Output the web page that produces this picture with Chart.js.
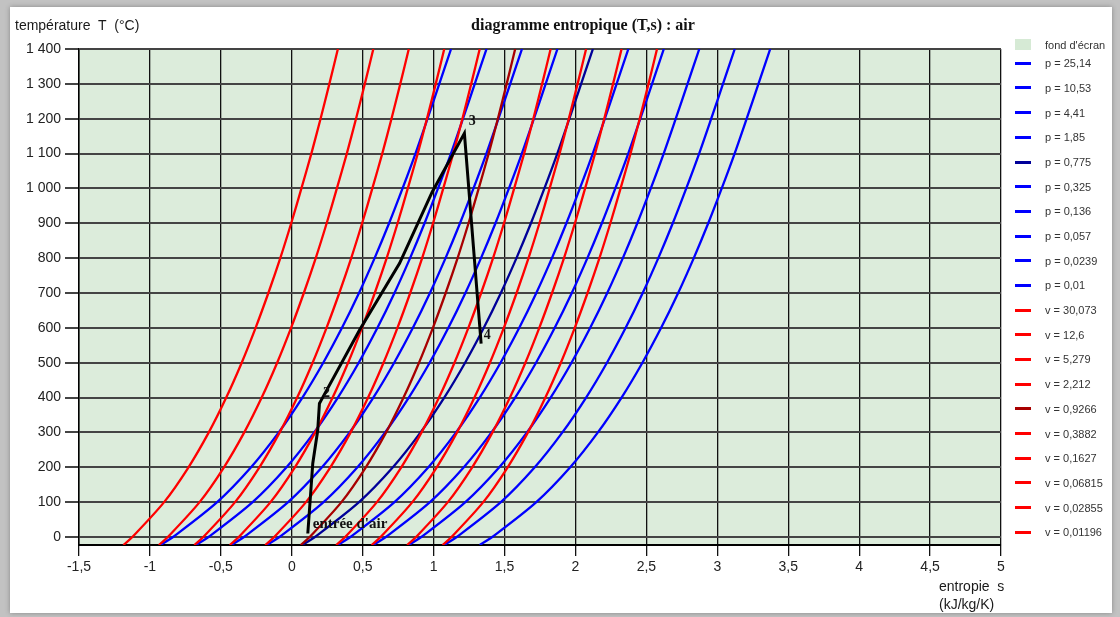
<!DOCTYPE html>
<html>
<head>
<meta charset="utf-8">
<script src="https://cdn.jsdelivr.net/npm/chart.js@4.4.1/dist/chart.umd.min.js"></script>
<style>
html, body { margin: 0; padding: 0; }
body { width: 1120px; height: 617px; background: #c2c2c2; position: relative; overflow: hidden; font-family: "Liberation Sans", Arial, sans-serif; }
#panel { position: absolute; left: 10px; top: 7px; width: 1102px; height: 606px; background: #fff; box-shadow: 0 0 5px rgba(0,0,0,0.3); }
#chart { position: absolute; left: 0; top: 0; }
.txt { position: absolute; white-space: nowrap; color: #1a1a1a; }
#title { left: 583px; top: 15px; transform: translateX(-50%); font: bold 16px "Liberation Serif", "Times New Roman", serif; line-height: 20px; color: #111; }
#ytitle { left: 15px; top: 17px; font-size: 14px; line-height: 16px; }
#xtitle { left: 939px; top: 577px; font-size: 14px; line-height: 18px; }
.leg { position: absolute; left: 1015px; font-size: 11px; color: #333; }
.leg span.sw { position: absolute; left: 0; width: 16px; height: 3px; top: -1.5px; }
.leg span.lb { position: absolute; left: 30px; top: -7px; line-height: 14px; white-space: nowrap; }
</style>
</head>
<body>
<div id="panel"></div>
<canvas id="chart" width="1120" height="617"></canvas>
<div class="txt" id="title">diagramme entropique (T,s) : air</div>
<div class="txt" id="ytitle">température&nbsp; T&nbsp; (°C)</div>
<div class="txt" id="xtitle">entropie&nbsp; s<br>(kJ/kg/K)</div>
<div id="legend"></div>
<script>
// temperature levels (°C) at which each curve was read
const tempLevels = [-23, 0, 100, 200, 300, 400, 500, 600, 700, 800, 900, 1000, 1100, 1200, 1300, 1400];

// isobars, entropy s (kJ/kg/K) at each temperature level
const pressureLabels = ['p = 25,14', 'p = 10,53', 'p = 4,41', 'p = 1,85', 'p = 0,775', 'p = 0,325', 'p = 0,136', 'p = 0,057', 'p = 0,0239', 'p = 0,01'];
const isobarS = [
    [-0.925, -0.837, -0.526, -0.287, -0.092, 0.075, 0.222, 0.354, 0.474, 0.584, 0.686, 0.781, 0.872, 0.957, 1.040, 1.123],
    [-0.675, -0.587, -0.276, -0.037, 0.158, 0.325, 0.472, 0.604, 0.724, 0.834, 0.936, 1.031, 1.122, 1.207, 1.290, 1.373],
    [-0.425, -0.337, -0.026, 0.213, 0.408, 0.575, 0.722, 0.854, 0.974, 1.084, 1.186, 1.281, 1.372, 1.457, 1.540, 1.623],
    [-0.175, -0.087, 0.224, 0.463, 0.658, 0.825, 0.972, 1.104, 1.224, 1.334, 1.436, 1.531, 1.622, 1.707, 1.790, 1.873],
    [0.075, 0.163, 0.474, 0.713, 0.908, 1.075, 1.222, 1.354, 1.474, 1.584, 1.686, 1.781, 1.872, 1.957, 2.040, 2.123],
    [0.325, 0.413, 0.724, 0.963, 1.158, 1.325, 1.472, 1.604, 1.724, 1.834, 1.936, 2.031, 2.122, 2.207, 2.290, 2.373],
    [0.575, 0.663, 0.974, 1.213, 1.408, 1.575, 1.722, 1.854, 1.974, 2.084, 2.186, 2.281, 2.372, 2.457, 2.540, 2.623],
    [0.825, 0.913, 1.224, 1.463, 1.658, 1.825, 1.972, 2.104, 2.224, 2.334, 2.436, 2.531, 2.622, 2.707, 2.790, 2.873],
    [1.075, 1.163, 1.474, 1.713, 1.908, 2.075, 2.222, 2.354, 2.474, 2.584, 2.686, 2.781, 2.872, 2.957, 3.040, 3.123],
    [1.325, 1.413, 1.724, 1.963, 2.158, 2.325, 2.472, 2.604, 2.724, 2.834, 2.936, 3.031, 3.122, 3.207, 3.290, 3.373]
];

// isochores, same temperature levels
const volumeLabels = ['v = 30,073', 'v = 12,6', 'v = 5,279', 'v = 2,212', 'v = 0,9266', 'v = 0,3882', 'v = 0,1627', 'v = 0,06815', 'v = 0,02855', 'v = 0,01196'];
const isochoreS = [
    [1.063, 1.126, 1.350, 1.522, 1.665, 1.788, 1.897, 1.995, 2.085, 2.169, 2.246, 2.318, 2.388, 2.453, 2.515, 2.575],
    [0.813, 0.876, 1.100, 1.272, 1.415, 1.538, 1.647, 1.745, 1.835, 1.919, 1.996, 2.068, 2.138, 2.203, 2.265, 2.325],
    [0.563, 0.626, 0.850, 1.022, 1.165, 1.288, 1.397, 1.495, 1.585, 1.669, 1.746, 1.818, 1.888, 1.953, 2.015, 2.075],
    [0.313, 0.376, 0.600, 0.772, 0.915, 1.038, 1.147, 1.245, 1.335, 1.419, 1.496, 1.568, 1.638, 1.703, 1.765, 1.825],
    [0.063, 0.126, 0.350, 0.522, 0.665, 0.788, 0.897, 0.995, 1.085, 1.169, 1.246, 1.318, 1.388, 1.453, 1.515, 1.575],
    [-0.187, -0.124, 0.100, 0.272, 0.415, 0.538, 0.647, 0.745, 0.835, 0.919, 0.996, 1.068, 1.138, 1.203, 1.265, 1.325],
    [-0.437, -0.374, -0.150, 0.022, 0.165, 0.288, 0.397, 0.495, 0.585, 0.669, 0.746, 0.818, 0.888, 0.953, 1.015, 1.075],
    [-0.687, -0.624, -0.400, -0.228, -0.085, 0.038, 0.147, 0.245, 0.335, 0.419, 0.496, 0.568, 0.638, 0.703, 0.765, 0.825],
    [-0.937, -0.874, -0.650, -0.478, -0.335, -0.212, -0.103, -0.005, 0.085, 0.169, 0.246, 0.318, 0.388, 0.453, 0.515, 0.575],
    [-1.187, -1.124, -0.900, -0.728, -0.585, -0.462, -0.353, -0.255, -0.165, -0.081, -0.004, 0.068, 0.138, 0.203, 0.265, 0.325]
];

// engine cycle (black path)
const cycleS = [0.113, 0.148, 0.183, 0.195, 0.207, 0.477, 0.76, 0.99, 1.217, 1.335];
const cycleT = [10, 211, 306, 383, 392, 593, 785, 990, 1158, 555];
const pointNames = ["entrée d'air", '2', '3', '4'];
const pointS = [0.148, 0.249, 1.276, 1.382];
const pointT = [38, 412, 1191, 579];

const xTicks = [-1.5, -1, -0.5, 0, 0.5, 1, 1.5, 2, 2.5, 3, 3.5, 4, 4.5, 5];
const yTicks = [0, 100, 200, 300, 400, 500, 600, 700, 800, 900, 1000, 1100, 1200, 1300, 1400];

const BLUE = '#0000ff', DARK_BLUE = '#000099', RED = '#ff0000', DARK_RED = '#a80000';

function curve(row) {
    return tempLevels.map((t, j) => ({ x: row[j], y: t }));
}

const datasets = [];
datasets.push({
    label: 'cycle',
    data: cycleS.map((s, i) => ({ x: s, y: cycleT[i] })),
    borderColor: '#000', borderWidth: 3, showLine: true, pointRadius: 0, order: 0
});
isochoreS.forEach((row, i) => {
    datasets.push({
        label: volumeLabels[i], data: curve(row),
        borderColor: i === 4 ? DARK_RED : RED, borderWidth: 2.3,
        showLine: true, pointRadius: 0, tension: 0.3, order: 1
    });
});
isobarS.forEach((row, i) => {
    datasets.push({
        label: pressureLabels[i], data: curve(row),
        borderColor: i === 4 ? DARK_BLUE : BLUE, borderWidth: 2.3,
        showLine: true, pointRadius: 0, tension: 0.3, order: 2
    });
});

const plotBg = {
    id: 'plotBg',
    beforeDraw(chart) {
        const a = chart.chartArea, c = chart.ctx;
        c.save();
        c.fillStyle = '#dcecdb';
        c.fillRect(a.left, a.top, a.right - a.left, a.bottom - a.top);
        c.restore();
    }
};

const pointLabels = {
    id: 'pointLabels',
    afterDatasetsDraw(chart) {
        const c = chart.ctx, xs = chart.scales.x, ys = chart.scales.y;
        c.save();
        c.fillStyle = '#111';
        c.textBaseline = 'middle';
        c.textAlign = 'left';
        pointNames.forEach((name, i) => {
            c.font = i === 0 ? 'bold 15px "Liberation Serif", serif' : 'bold 14px "Liberation Serif", serif';
            c.fillText(name, xs.getPixelForValue(pointS[i]) - (i === 0 ? 0 : 4), ys.getPixelForValue(pointT[i]));
        });
        c.restore();
    }
};

const fontFam = '"Liberation Sans", Arial, sans-serif';

new Chart(document.getElementById('chart'), {
    type: 'scatter',
    data: { datasets },
    options: {
        responsive: false,
        animation: false,
        layout: { padding: { left: 0, top: 49, right: 119, bottom: 32 } },
        plugins: { legend: { display: false }, tooltip: { enabled: false } },
        scales: {
            x: {
                type: 'linear', min: -1.5, max: 5,
                afterFit: s => { s.height = 40; },
                afterBuildTicks: s => { s.ticks = xTicks.map(v => ({ value: v })); },
                ticks: {
                    autoSkip: false, maxRotation: 0, padding: 3, color: '#222',
                    font: { size: 14, family: fontFam },
                    callback: v => String(v).replace('.', ',')
                },
                grid: { color: '#111', lineWidth: 1.3, tickLength: 11 },
                border: { color: '#000', width: 2 }
            },
            y: {
                type: 'linear', min: -23, max: 1400,
                afterFit: s => { s.width = 79; },
                afterBuildTicks: s => { s.ticks = yTicks.map(v => ({ value: v })); },
                ticks: {
                    padding: 4, color: '#222',
                    font: { size: 14, family: fontFam },
                    callback: v => v >= 1000 ? Math.floor(v / 1000) + ' ' + String(v % 1000).padStart(3, '0') : String(v)
                },
                grid: { color: '#444', lineWidth: 2, tickLength: 14 },
                border: { color: '#000', width: 1.5 }
            }
        }
    },
    plugins: [plotBg, pointLabels]
});

// legend on the right
const legend = document.getElementById('legend');
function addLegendItem(top, text, color, box) {
    const d = document.createElement('div');
    d.className = 'leg';
    d.style.top = top + 'px';
    const sw = document.createElement('span');
    sw.className = 'sw';
    sw.style.background = color;
    if (box) { sw.style.height = '11px'; sw.style.top = '-5.5px'; }
    const lb = document.createElement('span');
    lb.className = 'lb';
    lb.textContent = text;
    d.appendChild(sw);
    d.appendChild(lb);
    legend.appendChild(d);
}
addLegendItem(44.7, "fond d'écran", '#d6ead5', true);
pressureLabels.forEach((t, i) => addLegendItem(63.3 + 24.68 * i, t, i === 4 ? DARK_BLUE : BLUE));
volumeLabels.forEach((t, i) => addLegendItem(63.3 + 24.68 * (10 + i), t, i === 4 ? DARK_RED : RED));
</script>
</body>
</html>
